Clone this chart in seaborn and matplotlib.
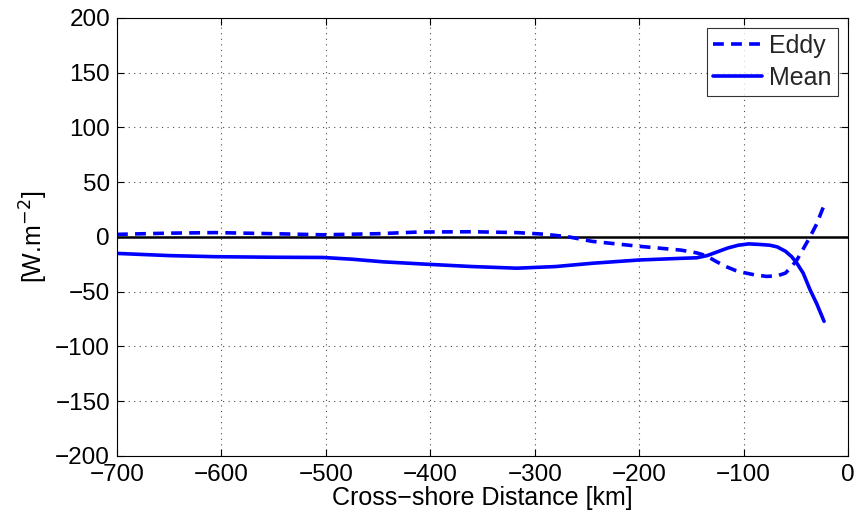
import numpy as np
import pandas as pd
import matplotlib
matplotlib.use("Agg")
import matplotlib.pyplot as plt
import seaborn as sns

eddy_x = [-700, -650, -606, -550, -503, -450, -412, -360, -317, -290, -267, -245, -200, -160, -145, -136, -127, -117, -108, -100, -90, -78, -68, -60, -55, -49, -43, -36.5, -30, -23]
eddy_y = [2.4, 3.5, 4.0, 3.0, 2.0, 3.0, 4.5, 4.8, 4.0, 2.5, 0.0, -4.0, -8.5, -12.0, -14.5, -17.0, -22.0, -27.0, -30.5, -32.5, -34.5, -36.0, -35.5, -33.0, -28.0, -21.0, -11.0, 0.0, 12.0, 29.0]

mean_x = [-700, -650, -606, -550, -503, -475, -445, -401, -360, -317, -280, -245, -200, -160, -145, -135, -125, -115, -105, -95, -85, -75, -68, -60, -54, -49, -43, -36.5, -30, -23]
mean_y = [-15.0, -17.0, -18.0, -18.5, -18.7, -20.3, -22.7, -25.0, -27.0, -28.5, -27.0, -24.0, -21.0, -19.5, -19.0, -17.0, -13.5, -10.0, -7.5, -6.3, -6.8, -7.5, -9.0, -13.0, -18.0, -24.0, -33.0, -48.0, -61.0, -77.0]

xticks = [-700, -600, -500, -400, -300, -200, -100, 0]
yticks = [-200, -150, -100, -50, 0, 50, 100, 150, 200]

df = pd.concat([
    pd.DataFrame({"x": eddy_x, "y": eddy_y, "s": "Eddy"}),
    pd.DataFrame({"x": mean_x, "y": mean_y, "s": "Mean"}),
])

sns.set_theme(style="white")
plt.rcParams['font.family'] = ['Liberation Sans', 'DejaVu Sans']

fig = plt.figure(figsize=(8.61, 5.18), dpi=100)
ax = fig.add_axes([0.1359, 0.1197, 0.8491, 0.8456])

sns.lineplot(data=df, x="x", y="y", hue="s", style="s",
             palette={"Eddy": "#0000ff", "Mean": "#0000ff"},
             dashes={"Eddy": (3, 2), "Mean": ""}, linewidth=2.6, ax=ax,
             sort=False, estimator=None)
ax.axhline(0, color="black", lw=1.8, zorder=1)

ax.set_xlim(-700, 0)
ax.set_ylim(-200, 200)
ax.set_xticks(xticks)
ax.set_yticks(yticks)
ax.set_xticklabels([str(v).replace('-', '\u2212') for v in xticks])
ax.set_yticklabels([str(v).replace('-', '\u2212') for v in yticks])
ax.tick_params(direction="in", length=5, width=0.8, labelsize=17.5, colors="black",
               top=True, right=True, bottom=True, left=True)
ax.tick_params(axis="x", pad=6)
ax.tick_params(axis="y", pad=5)
ax.grid(True, color="black", linestyle=(0, (1, 4)), linewidth=0.8, alpha=0.7)
for s in ax.spines.values():
    s.set_color("black")
    s.set_linewidth(0.8)
ax.set_xlabel("Cross\u2212shore Distance [km]", fontsize=18, color="black", labelpad=0)
ax.set_ylabel("[W.m$^{-2}$]", fontsize=18, color="black", labelpad=4)

leg = ax.legend(loc="upper right", fontsize=18, frameon=True, fancybox=False,
                edgecolor="black", handlelength=1.95, borderaxespad=0.4,
                labelspacing=0.3, handletextpad=0.3, borderpad=0.25)
leg.get_frame().set_linewidth(0.8)
leg.set_title(None)

fig.savefig("out.png", dpi=100)
